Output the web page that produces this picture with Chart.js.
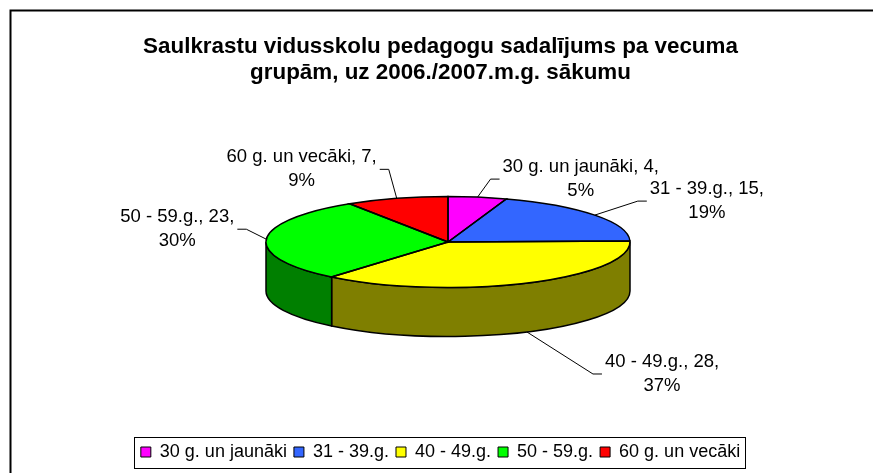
<!DOCTYPE html>
<html>
<head>
<meta charset="utf-8">
<script src="https://cdn.jsdelivr.net/npm/chart.js@4.4.0/dist/chart.umd.min.js"></script>
<style>
html, body { margin: 0; padding: 0; background: #fff; }
#wrap { width: 873px; height: 473px; }
</style>
</head>
<body>
<div id="wrap"><canvas id="pieChart" width="873" height="473"></canvas></div>
<script>
'use strict';

var categories = ['30 g. un jaunāki', '31 - 39.g.', '40 - 49.g.', '50 - 59.g.', '60 g. un vecāki'];
var teachers = [4, 15, 28, 23, 7];
var percentLabels = ['5%', '19%', '37%', '30%', '9%'];
var titleLines = ['Saulkrastu vidusskolu pedagogu sadalījums pa vecuma', 'grupām, uz 2006./2007.m.g. sākumu'];
var sliceColors = ['#ff00ff', '#3366ff', '#ffff00', '#00ff00', '#ff0000'];

// fake 3d: where the pie sits, how flat it is and how thick
var pieCenterX = 448, pieCenterY = 242, pieRadius = 182, tilt = 0.25, depth = 49;
// elbow of each leader line, relative to the rim point of its slice
var leaderOffsets = [[13, -18], [43, -14], [66, 42], [-20, -10], [-8, -29]];
var fontFamily = "'Liberation Sans', Arial, sans-serif";

function darker(hex) {
    var r = parseInt(hex.substr(1, 2), 16) >> 1;
    var g = parseInt(hex.substr(3, 2), 16) >> 1;
    var b = parseInt(hex.substr(5, 2), 16) >> 1;
    return 'rgb(' + r + ',' + g + ',' + b + ')';
}

var pie3d = {
    id: 'pie3d',
    beforeDraw: function (chart) {
        var ctx = chart.ctx;
        ctx.save();
        ctx.strokeStyle = '#000';
        ctx.lineWidth = 2;
        ctx.beginPath();
        ctx.moveTo(10.5, chart.height);
        ctx.lineTo(10.5, 10.5);
        ctx.lineTo(chart.width, 10.5);
        ctx.stroke();
        ctx.restore();
    },
    beforeDatasetsDraw: function (chart) {
        var ctx = chart.ctx;
        var arcs = chart.getDatasetMeta(0).data;
        ctx.save();
        ctx.lineWidth = 1.5;
        ctx.strokeStyle = '#000';
        arcs.forEach(function (arc, i) {
            var r = arc.outerRadius, ry = r * tilt;
            var a = Math.max(arc.startAngle, 0), b = Math.min(arc.endAngle, Math.PI);
            if (b <= a) return;
            ctx.beginPath();
            ctx.ellipse(pieCenterX, pieCenterY, r, ry, 0, a, b);
            ctx.ellipse(pieCenterX, pieCenterY + depth, r, ry, 0, b, a, true);
            ctx.closePath();
            ctx.fillStyle = darker(sliceColors[i]);
            ctx.fill();
            ctx.stroke();
        });
        ctx.restore();

        // squash the library's pie into the top face
        var a0 = arcs[0];
        ctx.save();
        ctx.translate(pieCenterX, pieCenterY);
        ctx.scale(1, tilt);
        ctx.translate(-a0.x, -a0.y);
    },
    afterDatasetsDraw: function (chart) {
        var ctx = chart.ctx;
        ctx.restore();
        var arcs = chart.getDatasetMeta(0).data;

        ctx.save();
        ctx.lineWidth = 1.5;
        ctx.strokeStyle = '#000';
        arcs.forEach(function (arc) {
            var r = arc.outerRadius;
            ctx.beginPath();
            ctx.moveTo(pieCenterX, pieCenterY);
            ctx.ellipse(pieCenterX, pieCenterY, r, r * tilt, 0, arc.startAngle, arc.endAngle);
            ctx.closePath();
            ctx.stroke();
        });

        // data labels with leader lines
        ctx.lineWidth = 1;
        ctx.font = '18.5px ' + fontFamily;
        ctx.fillStyle = '#000';
        ctx.textBaseline = 'middle';
        ctx.textAlign = 'center';
        arcs.forEach(function (arc, i) {
            var r = arc.outerRadius;
            var mid = (arc.startAngle + arc.endAngle) / 2;
            var px = pieCenterX + r * Math.cos(mid);
            var py = pieCenterY + r * tilt * Math.sin(mid);
            if (Math.sin(mid) > 0.3) py += depth;
            var ex = px + leaderOffsets[i][0], ey = py + leaderOffsets[i][1];
            var side = leaderOffsets[i][0] >= 0 ? 1 : -1;
            var tx = ex + side * 9;
            ctx.beginPath();
            ctx.moveTo(px, py);
            ctx.lineTo(ex, ey);
            ctx.lineTo(tx, ey);
            ctx.stroke();

            var line1 = categories[i] + ', ' + teachers[i] + ',';
            var line2 = percentLabels[i];
            var w = Math.max(ctx.measureText(line1).width, ctx.measureText(line2).width);
            var cx = tx + side * (3 + w / 2);
            ctx.fillText(line1, cx, ey - 12);
            ctx.fillText(line2, cx, ey + 12);
        });
        ctx.restore();
    },
    afterDraw: function (chart) {
        var boxes = chart.legend.legendHitBoxes;
        if (!boxes || !boxes.length) return;
        var left = boxes[0].left, right = 0, cy = boxes[0].top + boxes[0].height / 2;
        boxes.forEach(function (h) {
            left = Math.min(left, h.left);
            right = Math.max(right, h.left + h.width);
        });
        var ctx = chart.ctx;
        ctx.save();
        ctx.strokeStyle = '#000';
        ctx.lineWidth = 1;
        ctx.strokeRect(Math.round(left - 7) + 0.5, Math.round(cy - 15) + 0.5, Math.round(right - left + 12), 31);
        ctx.restore();
    }
};

var pieCanvas = document.getElementById('pieChart').getContext('2d');
var pieChart = new Chart(pieCanvas, {
    type: 'doughnut',
    data: {
        labels: categories,
        datasets: [{
            data: teachers,
            backgroundColor: sliceColors,
            borderWidth: 0,
            clip: false
        }]
    },
    options: {
        responsive: false,
        animation: false,
        events: [],
        cutout: 0,
        radius: pieRadius,
        layout: { padding: { left: 8, bottom: 2 } },
        plugins: {
            tooltip: { enabled: false },
            title: {
                display: true,
                text: titleLines,
                color: '#000',
                font: { family: fontFamily, size: 22.4, weight: 'bold', lineHeight: 26 / 22.4 },
                padding: { top: 34, bottom: 10 }
            },
            legend: {
                position: 'bottom',
                labels: {
                    color: '#000',
                    font: { family: fontFamily, size: 18 },
                    boxWidth: 10,
                    boxHeight: 10,
                    padding: 7,
                    generateLabels: function (chart) {
                        var items = Chart.overrides.doughnut.plugins.legend.labels.generateLabels(chart);
                        items.forEach(function (it) {
                            it.strokeStyle = '#000';
                            it.lineWidth = 1;
                        });
                        return items;
                    }
                }
            }
        }
    },
    plugins: [pie3d]
});
</script>
</body>
</html>
